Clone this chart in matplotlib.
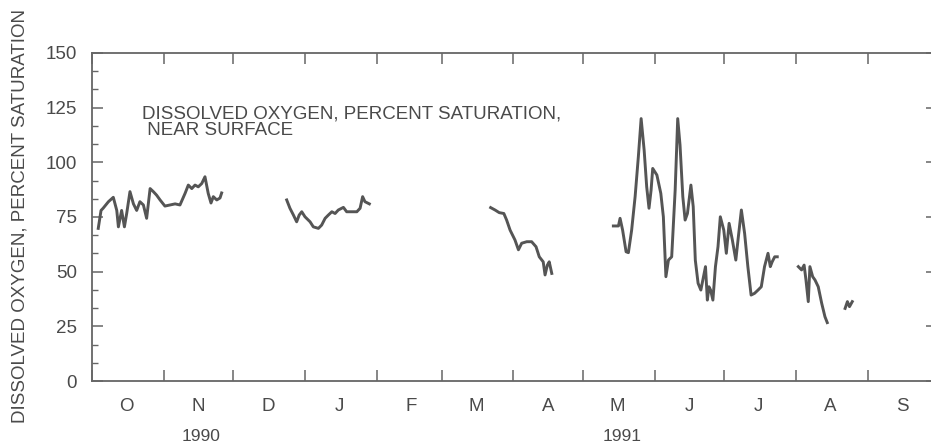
import numpy as np
import pandas as pd
import matplotlib
matplotlib.use('Agg')
import matplotlib.pyplot as plt
import matplotlib.dates as mdates
from matplotlib.ticker import MultipleLocator, FixedLocator, NullFormatter
from matplotlib.transforms import blended_transform_factory

plt.rcParams['font.family'] = ['Liberation Sans', 'DejaVu Sans']

# days counted from 1 Oct 1990, percent saturation
seg1_day = [2.7, 3.9, 4.8, 7.1, 9.2, 10.7, 11.4, 12.8, 14.0, 15.0, 16.4, 17.9, 19.3,
            20.7, 22.2, 23.6, 25.1, 26.5, 27.9, 29.4, 31.5, 33.7, 35.9, 38.0, 40.2,
            41.6, 43.1, 44.5, 45.9, 47.4, 48.8, 50.2, 51.4, 52.4, 53.9, 55.3, 56.0]
seg1_val = [69.8, 78, 79, 82, 84, 78, 70.5, 78, 70.5, 76.7, 86.6, 81, 78,
            82, 80.5, 74.4, 88, 86.6, 85, 82.8, 80, 80.5, 81, 80.5, 85.8,
            89.6, 88, 89.6, 88.8, 90.3, 93.4, 85.8, 81.4, 84.3, 82.8, 83.7, 86]

seg2_day = [84.1, 85.5, 87.0, 88.4, 89.5, 90.6, 92.0, 94.2, 95.6, 97.8, 99.2, 100.7,
            102.1, 103.6, 105.0, 106.4, 108.6, 110.0, 112.2, 114.4, 115.8, 116.9,
            117.9, 119.8]
seg2_val = [82.8, 79, 75.9, 72.8, 75.9, 77.4, 75.1, 72.8, 70.5, 69.8, 71.3, 74.4,
            75.9, 77.4, 76.6, 78.2, 79.4, 77.4, 77.4, 77.4, 79, 84.3,
            82, 81]

seg3_day = [172.2, 174.1, 175.9, 177.9, 179.1, 180.6, 182.7, 184.2, 185.6, 187.8,
            189.9, 191.8, 193.2, 194.9, 195.7, 196.7, 197.5, 198.6]
seg3_val = [79.3, 78.2, 77, 76.6, 73.6, 69, 64.5, 60, 63, 63.7,
            63.7, 61.4, 56.8, 54.5, 48.5, 53, 54.5, 49.2]

seg4_day = [225.2, 227.4, 228.1, 229.2, 230.7, 231.7, 233.1, 234.6, 236.0, 237.2,
            238.5, 239.6, 240.6, 241.5, 242.2, 244.0, 245.7, 246.8, 247.9, 249.0,
            250.4, 251.9, 253.0, 254.0, 255.2, 256.2, 257.2, 258.7, 259.7, 260.6,
            261.8, 263.0, 265.0, 265.8, 266.5, 267.2, 268.2, 269.3, 270.4, 271.4,
            272.9, 274.0, 275.2, 276.6, 278.1, 279.2, 280.5, 281.9, 283.3, 284.7,
            286.2, 287.7, 289.1, 290.5, 292.0, 293.0, 293.8, 294.9, 296.0]
seg4_val = [70.9, 70.9, 74.4, 69, 59.1, 58.7, 69, 84.3, 102.6, 120,
            105.6, 88.8, 79, 87.3, 97.2, 94.2, 85.8, 75.1, 47.7, 55.3,
            56.8, 87.3, 120, 107.9, 84.3, 73.6, 76.6, 89.6, 79.7, 55.3,
            44.7, 41.6, 52.3, 37, 43.1, 41.6, 37, 52.3, 61.4, 75.1,
            69, 58.4, 72.1, 64.5, 55.3, 66, 78.2, 67.5, 52.3, 39.3,
            40.1, 41.6, 43.1, 52.3, 58.4, 52.3, 54.5, 56.8, 56.8]

seg5_day = [305.1, 306.5, 307.6, 308.4, 309.4, 310.1, 311.3, 312.3, 313.7, 315.2,
            316.6, 317.6]
seg5_val = [52.3, 50.8, 53, 46.2, 36.3, 52.3, 47.7, 46.2, 43.1, 35.5,
            29.4, 26.7]

seg6_day = [325.3, 326.3, 327.2, 328.4]
seg6_val = [33.2, 36.3, 34.0, 36.3]

segments = [(seg1_day, seg1_val), (seg2_day, seg2_val), (seg3_day, seg3_val),
            (seg4_day, seg4_val), (seg5_day, seg5_val), (seg6_day, seg6_val)]

month_letters = ['O', 'N', 'D', 'J', 'F', 'M', 'A', 'M', 'J', 'J', 'A', 'S']
start = pd.Timestamp('1990-10-01')

ink = '#4a4a4a'
fs = 13.5
fig = plt.figure(figsize=(9.31, 4.43), dpi=100)
ax = fig.add_axes([92 / 931, 62 / 443, 845 / 931, 328 / 443])

for days, vals in segments:
    t = start + pd.to_timedelta(np.array(days), unit='D')
    ax.plot(t, vals, color='#555555', lw=2.1, solid_joinstyle='round')

month_starts = pd.date_range('1990-10-01', '1991-10-01', freq='MS')
mid_months = month_starts[:-1] + pd.Timedelta(days=15)
ax.set_xlim(month_starts[0], month_starts[-1])
ax.set_ylim(0, 150)

ax.xaxis.set_major_locator(FixedLocator(mdates.date2num(month_starts)))
ax.xaxis.set_major_formatter(NullFormatter())
ax.xaxis.set_minor_locator(FixedLocator(mdates.date2num(mid_months)))
ax.set_xticklabels(month_letters, minor=True)
ax.tick_params(axis='x', which='major', direction='in', length=8, width=1.1,
               color='#666666', top=True)
ax.tick_params(axis='x', which='minor', length=0, pad=12, labelsize=fs,
               labelcolor=ink)

ax.yaxis.set_major_locator(MultipleLocator(25))
ax.yaxis.set_minor_locator(MultipleLocator(25 / 3))
ax.tick_params(axis='y', which='major', direction='in', length=8, width=1.1,
               color='#666666', right=True, pad=11, labelsize=fs, labelcolor=ink)
ax.tick_params(axis='y', which='minor', direction='in', length=4.5, width=1.0,
               color='#666666', right=False)

for s in ax.spines.values():
    s.set_color('#666666')
    s.set_linewidth(1.3)

fig.text(20 / 931, 1 - 216 / 443, 'DISSOLVED OXYGEN, PERCENT SATURATION', rotation=90,
         ha='center', va='center', fontsize=fs, color=ink)

ax.text(0.059, 0.84, 'DISSOLVED OXYGEN, PERCENT SATURATION,\n NEAR SURFACE',
        transform=ax.transAxes, ha='left', va='top', fontsize=fs, color=ink,
        linespacing=0.95)

trans = blended_transform_factory(ax.transData, ax.transAxes)
ax.text(mdates.date2num(pd.Timestamp('1990-11-17')), -0.168, '1990',
        transform=trans, ha='center', va='center', fontsize=12.5, color=ink)
ax.text(mdates.date2num(pd.Timestamp('1991-05-18')), -0.168, '1991',
        transform=trans, ha='center', va='center', fontsize=12.5, color=ink)

fig.savefig('out.png', dpi=100)
